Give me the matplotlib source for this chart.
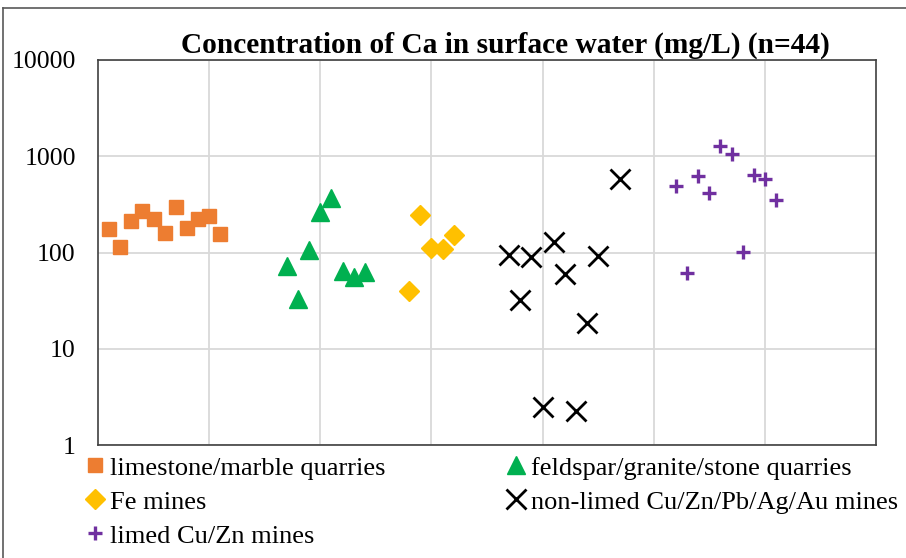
import matplotlib.pyplot as plt
from matplotlib.lines import Line2D

plt.rcParams['font.family'] = ['Liberation Serif', 'DejaVu Serif']

# limestone/marble quarries
lime_x = [0.1, 0.2, 0.3, 0.4, 0.5, 0.6, 0.7, 0.8, 0.9, 1.0, 1.1]
lime_y = [177, 113, 210, 272, 225, 161, 294, 181, 223, 240, 157]

# feldspar/granite/stone quarries
feld_x = [1.7, 1.8, 1.9, 2.0, 2.1, 2.2, 2.3, 2.4]
feld_y = [73, 32.6, 107, 266, 371, 64, 56, 62]

# Fe mines
fe_x = [2.8, 2.9, 3.0, 3.1, 3.2]
fe_y = [39.7, 244, 112, 109, 152]

# non-limed Cu/Zn/Pb/Ag/Au mines
nonl_x = [3.7, 3.8, 3.9, 4.0, 4.1, 4.2, 4.3, 4.4, 4.5, 4.7]
nonl_y = [93.8, 31.8, 89.4, 2.46, 128, 60, 2.23, 18.7, 93, 585]

# limed Cu/Zn mines
limed_x = [5.2, 5.3, 5.4, 5.5, 5.6, 5.7, 5.8, 5.9, 6.0, 6.1]
limed_y = [494, 61.6, 628, 412, 1264, 1055, 101, 643, 581, 354]

fig = plt.figure(figsize=(9.06, 5.58), dpi=100)
ax = fig.add_axes([98/906, 1-445/558, (876-98)/906, (445-60)/558])

h1, = ax.plot(lime_x, lime_y, 's', color='#ED7D31', ms=10, mec='#ED7D31',
              label='limestone/marble quarries')
h2, = ax.plot(feld_x, feld_y, '^', color='#00B050', ms=13.5, mec='#00B050',
              label='feldspar/granite/stone quarries')
h3, = ax.plot(fe_x, fe_y, 'D', color='#FFC000', ms=9.7, mec='#FFC000',
              label='Fe mines')
h4, = ax.plot(nonl_x, nonl_y, 'x', color='black', ms=14, mew=2.0,
              label='non-limed Cu/Zn/Pb/Ag/Au mines')
h5, = ax.plot(limed_x, limed_y, '+', color='#7030A0', ms=9.6, mew=2.4,
              label='limed Cu/Zn mines')

ax.set_yscale('log')
ax.set_ylim(1, 10000)
ax.set_xlim(0, 7)
ax.set_yticks([1, 10, 100, 1000, 10000])
ax.set_yticklabels(['1', '10', '100', '1000', '10000'])
ax.set_xticks([1, 2, 3, 4, 5, 6])
ax.set_xticklabels([])
ax.minorticks_off()
ax.tick_params(length=0, labelsize=18.5, pad=16)
ax.grid(True, color='#d9d9d9', linewidth=1.3)
ax.set_axisbelow(True)
for s in ax.spines.values():
    s.set_color('#404040')
    s.set_linewidth(1.2)

fig.text(505/906, 1-53/558, 'Concentration of Ca in surface water (mg/L) (n=44)',
         ha='center', va='baseline', fontsize=21.2, fontweight='bold')

# legend, filled row by row in the reference
handles = [h1, h3, h5, h2, h4]
fig.legend(handles=handles, labels=[h.get_label() for h in handles],
           ncol=2, loc='upper left', bbox_to_anchor=(73/906, 1-443/558),
           frameon=False, fontsize=19, handlelength=0.7, handletextpad=0.2,
           columnspacing=4.6, labelspacing=0.4, borderpad=0,
           markerscale=1.0)

# outer chart border
fig.add_artist(Line2D([3/906, 3/906], [0, 1-8/558], color='#595959', lw=1.2))
fig.add_artist(Line2D([3/906, 1], [1-8/558, 1-8/558], color='#595959', lw=1.2))

fig.savefig('out.png', dpi=100)
